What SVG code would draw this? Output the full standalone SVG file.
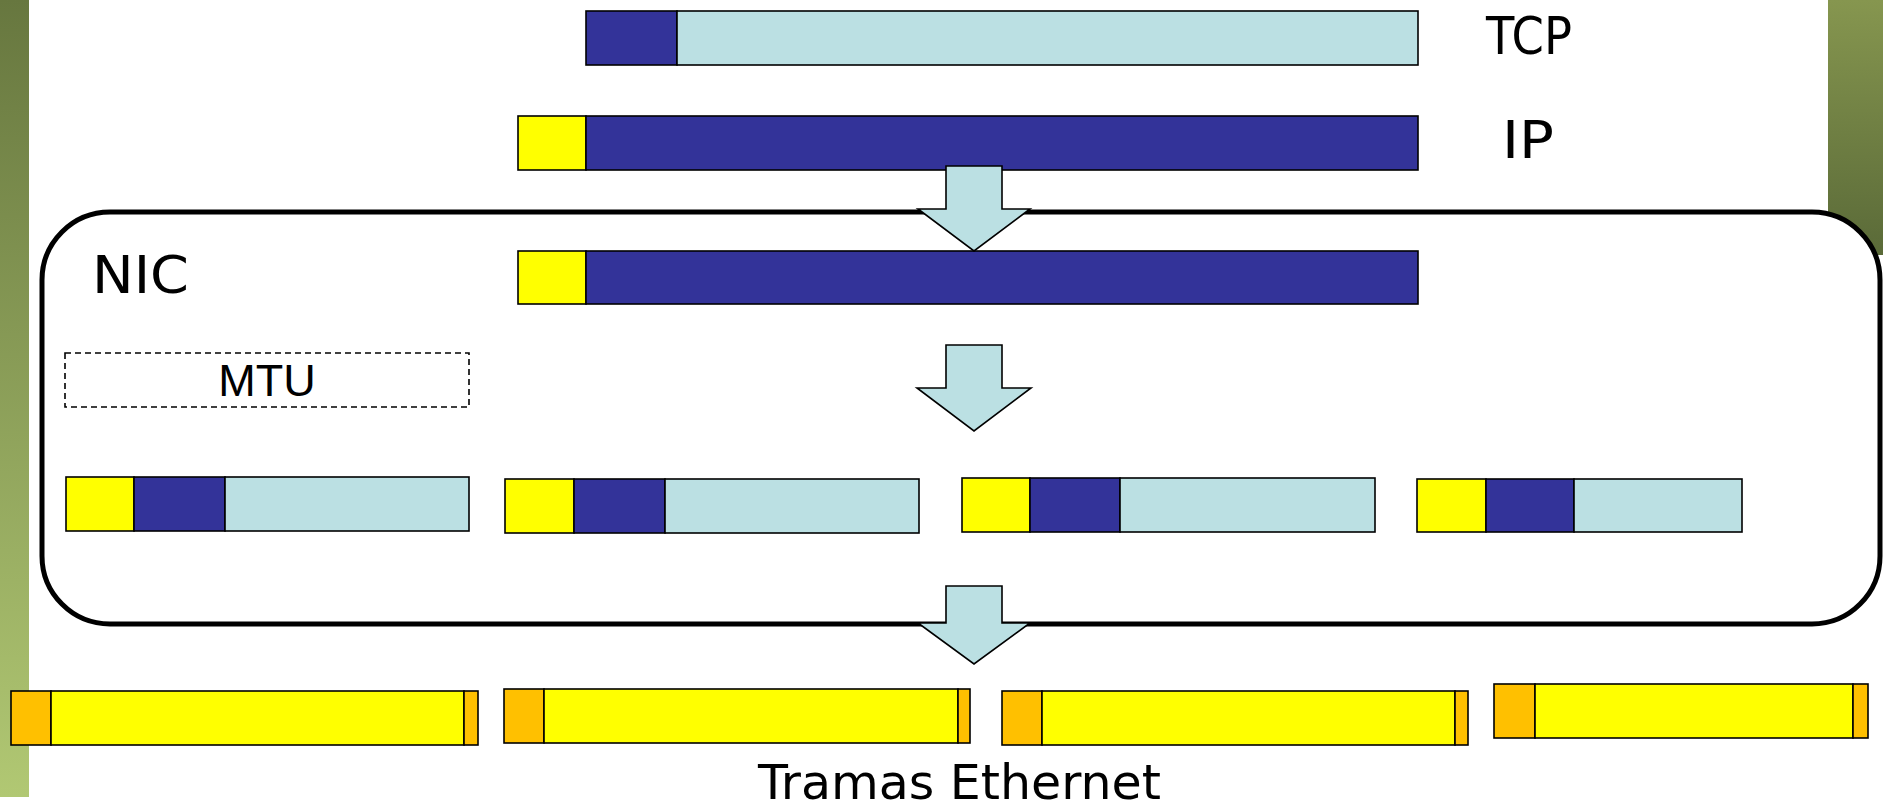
<svg xmlns="http://www.w3.org/2000/svg" width="1883" height="811" viewBox="0 0 1883 811">
<defs>
<linearGradient id="gl" x1="0" y1="0" x2="0" y2="1"><stop offset="0" stop-color="#67773f"/><stop offset="1" stop-color="#b1c873"/></linearGradient>
<linearGradient id="gr" x1="0" y1="0" x2="0" y2="1"><stop offset="0" stop-color="#86964f"/><stop offset="1" stop-color="#5a6a38"/></linearGradient>
<style>
.s{stroke:#000;stroke-width:1.6}
.db{fill:#333399}
.lb{fill:#BBE0E3}
.y{fill:#FFFF00}
.o{fill:#FFC000}
.arr{fill:#BBE0E3;stroke:#000;stroke-width:1.6;stroke-linejoin:miter}
.hand{font-family:"Comic Sans MS","DejaVu Sans",sans-serif;fill:#000}
</style>
</defs>
<rect x="0" y="0" width="1883" height="811" fill="#fff"/>
<rect x="0" y="0" width="29" height="797" fill="url(#gl)"/>
<rect x="1828" y="0" width="55" height="255" fill="url(#gr)"/>

<g id="nic">
<rect x="42" y="212" width="1838" height="412" rx="68" ry="68" fill="#fff" stroke="#000" stroke-width="5"/>
<text class="hand" x="92" y="293" font-size="52" textLength="97" lengthAdjust="spacingAndGlyphs">NIC</text>
</g>

<g id="tcp">
<rect class="s db" x="586" y="11" width="91" height="54"/>
<rect class="s lb" x="677" y="11" width="741" height="54"/>
<text class="hand" x="1486" y="54" font-size="51" textLength="86" lengthAdjust="spacingAndGlyphs">TCP</text>
</g>

<g id="ip">
<rect class="s y" x="518" y="116" width="68" height="54"/>
<rect class="s db" x="586" y="116" width="832" height="54"/>
<text class="hand" x="1502" y="158" font-size="52" textLength="52" lengthAdjust="spacingAndGlyphs">IP</text>
</g>

<g id="nic-ip">
<rect class="s y" x="518" y="251" width="68" height="53"/>
<rect class="s db" x="586" y="251" width="832" height="53"/>
</g>

<g id="mtu">
<rect x="65" y="353" width="404" height="54" fill="none" stroke="#000" stroke-width="1.6" stroke-dasharray="6,4"/>
<text x="267" y="396" font-family="'Liberation Sans',Arial,sans-serif" font-size="45" text-anchor="middle">MTU</text>
</g>

<g id="frag1">
<rect class="s y" x="66" y="477" width="68" height="54"/>
<rect class="s db" x="134" y="477" width="91" height="54"/>
<rect class="s lb" x="225" y="477" width="244" height="54"/>
</g>
<g id="frag2">
<rect class="s y" x="505" y="479" width="69" height="54"/>
<rect class="s db" x="574" y="479" width="91" height="54"/>
<rect class="s lb" x="665" y="479" width="254" height="54"/>
</g>
<g id="frag3">
<rect class="s y" x="962" y="478" width="68" height="54"/>
<rect class="s db" x="1030" y="478" width="90" height="54"/>
<rect class="s lb" x="1120" y="478" width="255" height="54"/>
</g>
<g id="frag4">
<rect class="s y" x="1417" y="479" width="69" height="53"/>
<rect class="s db" x="1486" y="479" width="88" height="53"/>
<rect class="s lb" x="1574" y="479" width="168" height="53"/>
</g>

<g id="eth1">
<rect class="s o" x="11" y="691" width="40" height="54"/>
<rect class="s y" x="51" y="691" width="413" height="54"/>
<rect class="s o" x="464" y="691" width="14" height="54"/>
</g>
<g id="eth2">
<rect class="s o" x="504" y="689" width="40" height="54"/>
<rect class="s y" x="544" y="689" width="414" height="54"/>
<rect class="s o" x="958" y="689" width="12" height="54"/>
</g>
<g id="eth3">
<rect class="s o" x="1002" y="691" width="40" height="54"/>
<rect class="s y" x="1042" y="691" width="413" height="54"/>
<rect class="s o" x="1455" y="691" width="13" height="54"/>
</g>
<g id="eth4">
<rect class="s o" x="1494" y="684" width="41" height="54"/>
<rect class="s y" x="1535" y="684" width="318" height="54"/>
<rect class="s o" x="1853" y="684" width="15" height="54"/>
</g>

<g id="connectors">
<path class="arr" d="M946,166 H1002 V209 H1030 L974,251 L918,209 H946 Z"/>
<path class="arr" d="M946,345 H1002 V388 H1031 L974,431 L917,388 H946 Z"/>
<path class="arr" d="M946,586 H1002 V623 H1030 L974,664 L918,623 H946 Z"/>
</g>

<text class="hand" x="758" y="799" font-size="48" textLength="403" lengthAdjust="spacingAndGlyphs">Tramas Ethernet</text>
</svg>
